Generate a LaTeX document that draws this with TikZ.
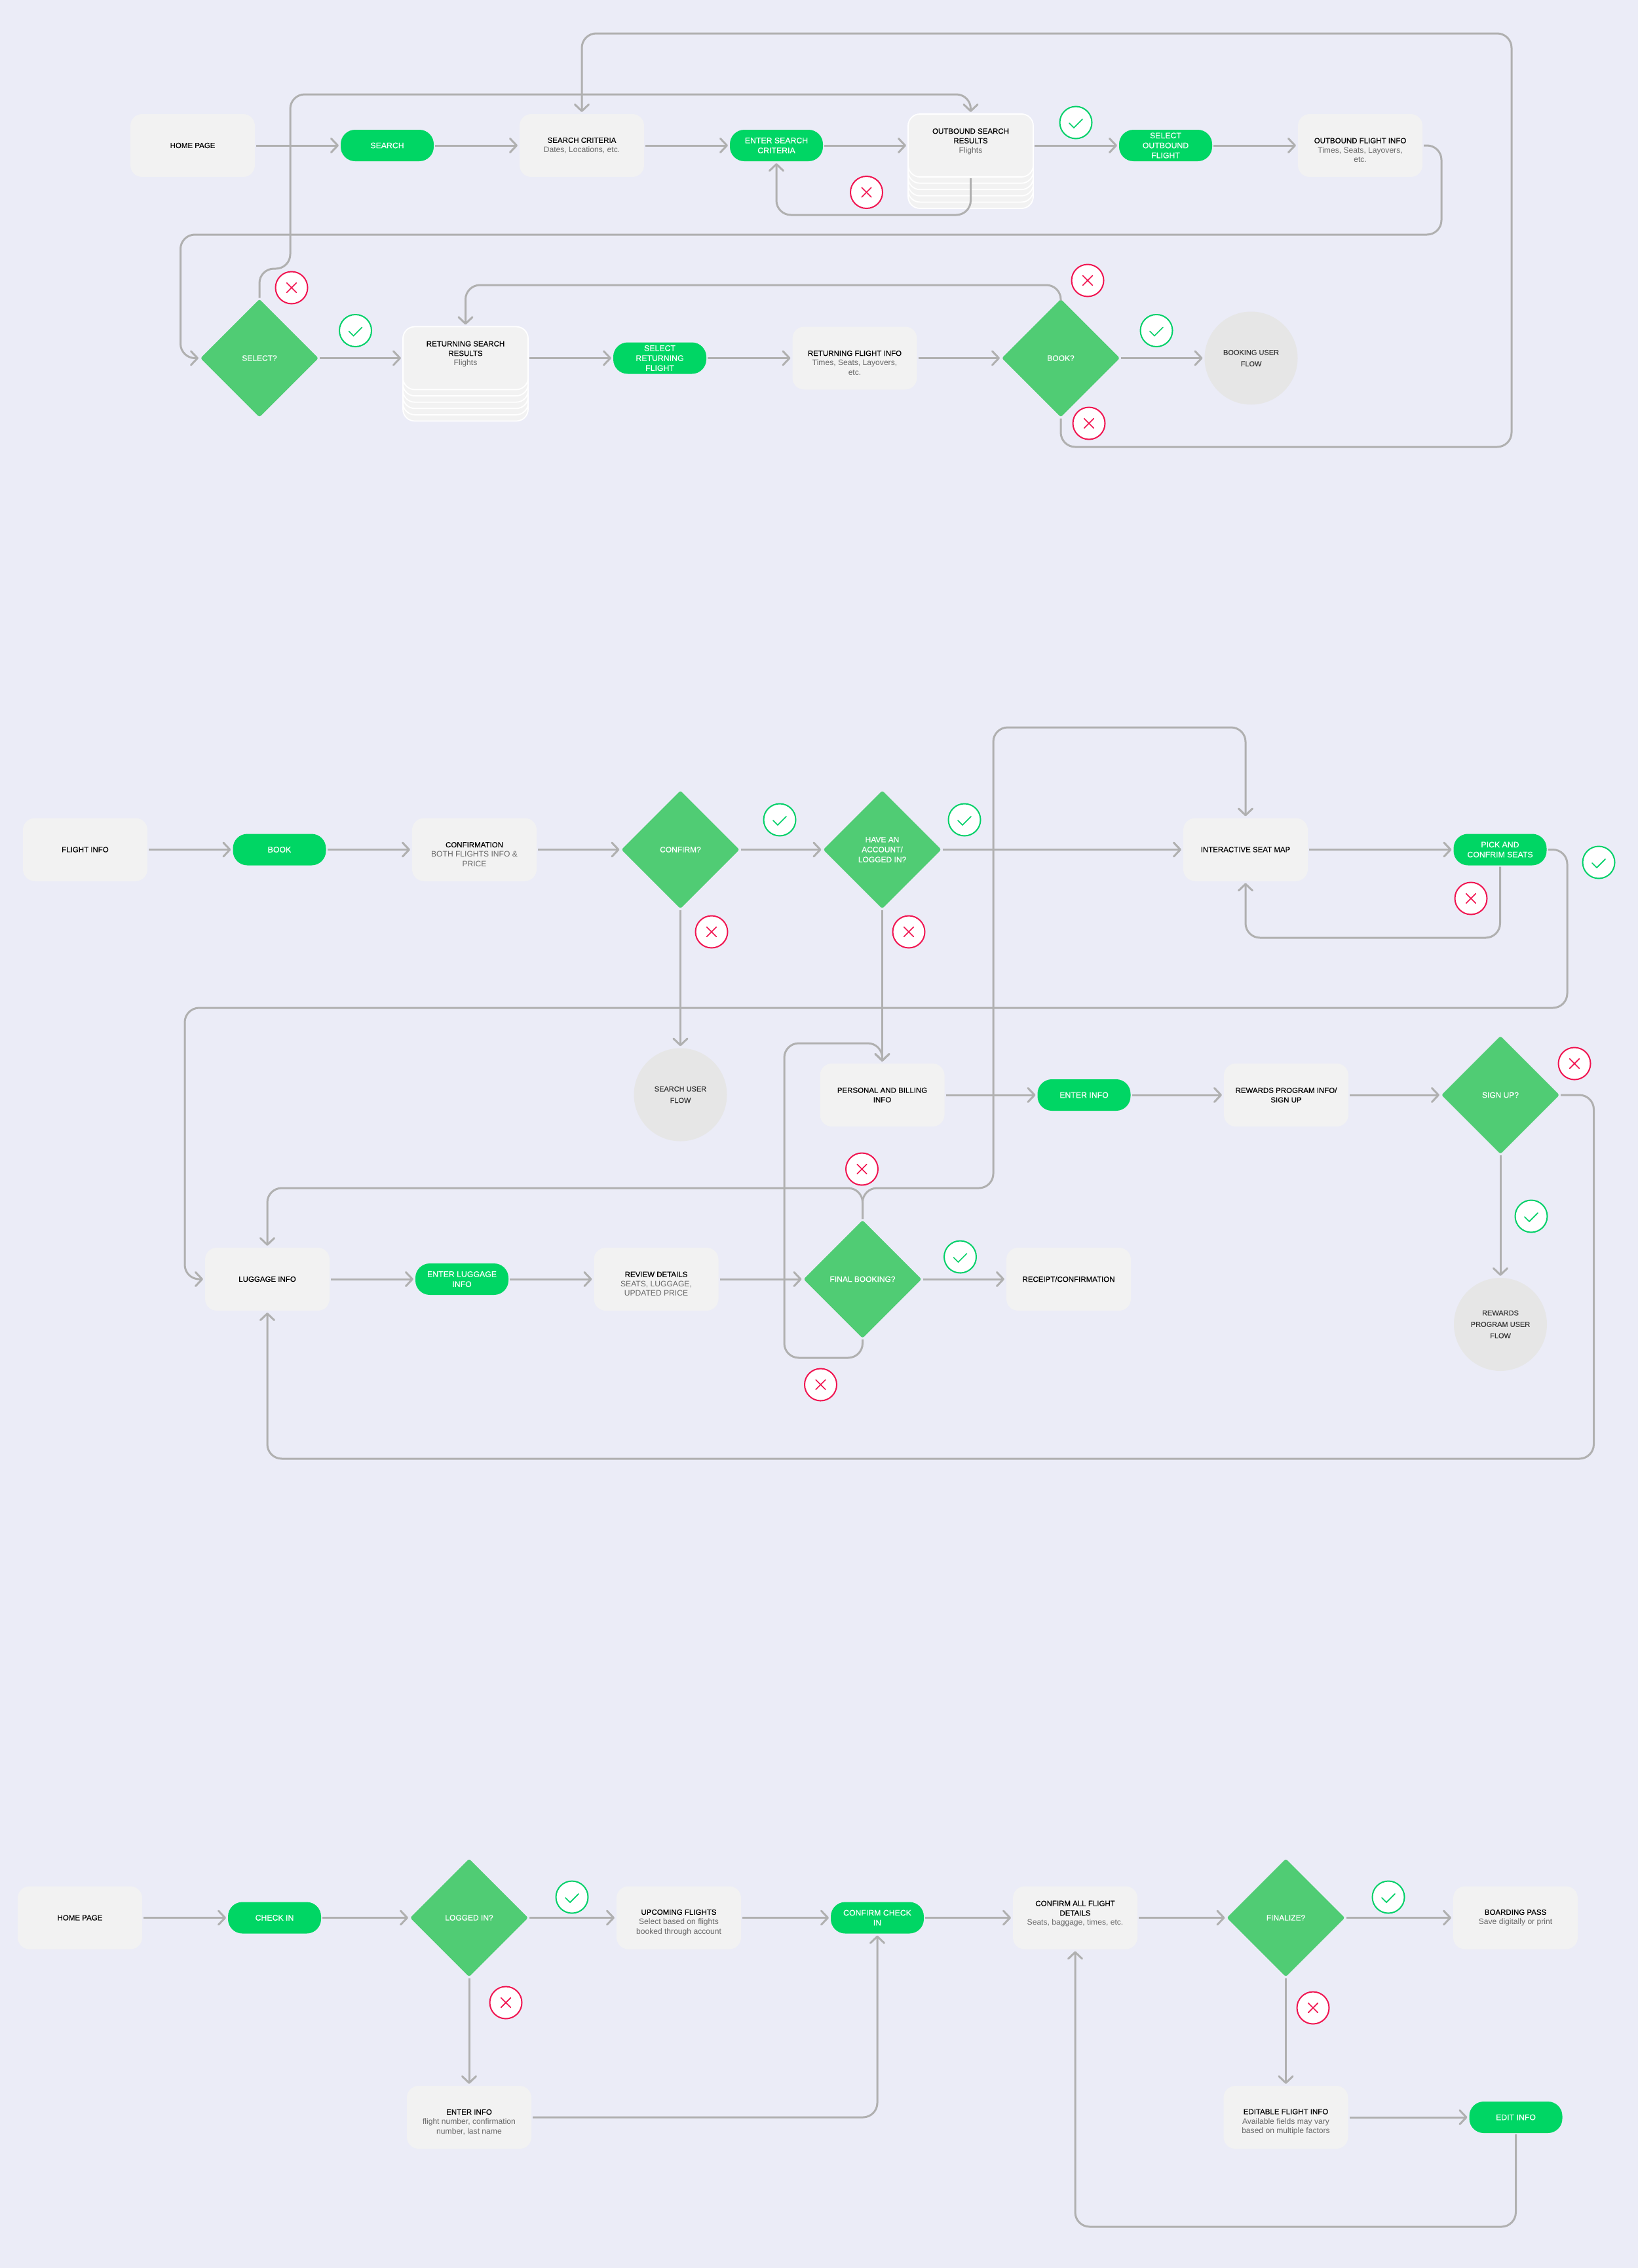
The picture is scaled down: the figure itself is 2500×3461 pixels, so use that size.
\documentclass[tikz,border=0pt]{standalone}
\usepackage{fontspec}
\setmainfont{Liberation Sans}[BoldFont=Liberation Sans, BoldFeatures={FakeBold=0.15}]
\usetikzlibrary{shapes.geometric, arrows.meta, positioning, calc}
\definecolor{colBg}{RGB}{235, 236, 247}
\definecolor{colBox}{RGB}{242, 242, 242}
\definecolor{colPill}{RGB}{0, 214, 100}
\definecolor{colDiam}{RGB}{80, 204, 116}
\definecolor{colEnd}{RGB}{230, 230, 230}
\definecolor{colLine}{RGB}{176, 176, 176}
\definecolor{colSub}{RGB}{105, 105, 105}
\definecolor{colYes}{RGB}{0, 208, 104}
\definecolor{colNo}{RGB}{240, 20, 80}
\newcommand{\subt}[1]{{\mdseries\fontsize{12.1}{14.6}\selectfont\color{colSub}#1}}
\tikzset{
    boxcard/.style={rectangle, rounded corners=18pt, fill=colBox, minimum width=190pt, minimum height=96pt,
        align=center, inner sep=0pt, outer sep=0pt, font=\fontsize{11.5}{14.6}\selectfont\bfseries,
        execute at begin node={\vspace*{3pt}}},
    stackcard/.style={boxcard, draw=white, line width=1.8pt, minimum width=191pt},
    pillbox/.style={rectangle, rounded corners=22pt, fill=colPill, text=white, minimum width=142pt, minimum height=48pt,
        align=center, inner sep=0pt, outer sep=0pt, font=\fontsize{12.3}{15.2}\selectfont\bfseries,
        execute at begin node={\vspace*{3pt}}},
    diam/.style={diamond, aspect=1, rounded corners=3pt, fill=colDiam, text=white, minimum width=180pt, minimum height=180pt,
        align=center, inner sep=0pt, outer sep=0pt, font=\fontsize{12}{15.2}\selectfont\bfseries,
        execute at begin node={\vspace*{3pt}}},
    endflow/.style={circle, fill=colEnd, text=black!80, minimum size=142pt,
        align=center, inner sep=0pt, outer sep=0pt, font=\fontsize{11}{17.4}\selectfont\bfseries},
    yesmark/.style={circle, draw=colYes, fill=white, line width=2pt, minimum size=49pt, inner sep=0pt,
        path picture={\draw[colYes, line width=1.7pt, line cap=round]
            ([shift={(-10,1)}]path picture bounding box.center) -- ++(7,7) -- ++(13,-13);}},
    nomark/.style={circle, draw=colNo, fill=white, line width=2pt, minimum size=49pt, inner sep=0pt,
        path picture={\draw[colNo, line width=1.7pt, line cap=round]
            ([shift={(-7.3,-7.3)}]path picture bounding box.center) -- ++(14.6,14.6)
            ([shift={(7.3,-7.3)}]path picture bounding box.center) -- ++(-14.6,14.6);}},
    flow/.style={draw=colLine, line width=3pt, rounded corners=22pt, shorten >=3pt, shorten <=2pt,
        -{Straight Barb[length=10pt,width=21pt,round]}},
}
\begin{document}
\begin{tikzpicture}[x=1pt, y=-1pt]
    \fill[colBg] (0, 0) rectangle (2500, 3461);
    \useasboundingbox (0, 0) rectangle (2500, 3461);

    % Search: first row
    \node[boxcard] (homeA) at (294, 222) {HOME PAGE};
    \node[pillbox] (searchP) at (591, 222) {SEARCH};
    \node[boxcard] (criteria) at (888, 222) {SEARCH CRITERIA\\\subt{Dates, Locations, etc.}};
    \node[pillbox] (enterCrit) at (1185, 222) {ENTER SEARCH\\CRITERIA};
    \foreach \i in {5, 4, 3, 2, 1} {
        \node[stackcard] (outCard\i) at (1481.5, {222+\i*9.6}) {};
    }
    \node[stackcard] (outResults) at (1481.5, 222) {OUTBOUND SEARCH\\RESULTS\\\subt{Flights}\\\mbox{}};
    \node[pillbox] (selectOut) at (1779, 222) {SELECT\\OUTBOUND\\FLIGHT};
    \node[boxcard] (outInfo) at (2076, 222) {\vphantom{H}\\OUTBOUND FLIGHT INFO\\\subt{Times, Seats, Layovers,}\\\subt{etc.}};

    % Search: second row
    \node[diam] (selectQ) at (396, 546.5) {SELECT?};
    \foreach \i in {5, 4, 3, 2, 1} {
        \node[stackcard] (retCard\i) at (710.5, {546.5+\i*9.6}) {};
    }
    \node[stackcard] (retResults) at (710.5, 546.5) {RETURNING SEARCH\\RESULTS\\\subt{Flights}\\\mbox{}};
    \node[pillbox] (selectRet) at (1007, 546.5) {SELECT\\RETURNING\\FLIGHT};
    \node[boxcard] (retInfo) at (1304.5, 546.5) {\vphantom{H}\\RETURNING FLIGHT INFO\\\subt{Times, Seats, Layovers,}\\\subt{etc.}};
    \node[diam] (bookQ) at (1619, 546.5) {BOOK?};
    \node[endflow] (bookFlow) at (1909.5, 546.5) {BOOKING USER\\FLOW};

    % Search: connectors
    \draw[flow] (homeA) -- (searchP);
    \draw[flow] (searchP) -- (criteria);
    \draw[flow] (criteria) -- (enterCrit);
    \draw[flow] (enterCrit) -- (outResults);
    \draw[flow] (outResults) -- (selectOut);
    \draw[flow] (selectOut) -- (outInfo);
    \draw[flow] (outResults.south) -- (1481.5, 328) -| (enterCrit.south);
    \draw[flow] (outInfo.east) -| (2200, 358) -- (275.5, 358) |- (selectQ.west);
    \draw[flow] (selectQ.north) -- (396, 410) -- (443, 410) -- (443, 144) -| (outResults.north);
    \draw[flow] (selectQ) -- (retResults);
    \draw[flow] (retResults) -- (selectRet);
    \draw[flow] (selectRet) -- (retInfo);
    \draw[flow] (retInfo) -- (bookQ);
    \draw[flow] (bookQ) -- (bookFlow);
    \draw[flow] (bookQ.north) -- (1619, 435) -| (retResults.north);
    \draw[flow] (bookQ.south) |- (2307, 682) -- (2307, 51) -| (criteria.north);

    % Search: badges
    \node[nomark] (noEnter) at (1322.5, 293.5) {};
    \node[yesmark] (yesOut) at (1642, 187) {};
    \node[nomark] (noSelect) at (445, 439) {};
    \node[yesmark] (yesSelect) at (542.5, 504.5) {};
    \node[nomark] (noBookT) at (1660, 428) {};
    \node[yesmark] (yesBook) at (1765, 504.5) {};
    \node[nomark] (noBookB) at (1662, 646) {};

    % Booking: first row
    \node[boxcard] (flightInfo) at (130, 1296.5) {FLIGHT INFO};
    \node[pillbox] (bookP) at (426.5, 1296.5) {BOOK};
    \node[boxcard] (confirmation) at (724, 1296.5) {\vphantom{H}\\CONFIRMATION\\\subt{BOTH FLIGHTS INFO \&}\\\subt{PRICE}};
    \node[diam] (confirmQ) at (1038.5, 1296.5) {CONFIRM?};
    \node[diam] (accountQ) at (1346.5, 1296.5) {HAVE AN\\ACCOUNT/\\LOGGED IN?};
    \node[boxcard] (seatMap) at (1901, 1296.5) {INTERACTIVE SEAT MAP};
    \node[pillbox] (pickSeats) at (2289.5, 1296.5) {PICK AND\\CONFRIM SEATS};

    % Booking: second row
    \node[endflow] (searchFlow) at (1038.5, 1670.5) {SEARCH USER\\FLOW};
    \node[boxcard] (billing) at (1346.5, 1671) {PERSONAL AND BILLING\\INFO};
    \node[pillbox] (enterInfoA) at (1654.5, 1671) {ENTER INFO};
    \node[boxcard] (rewards) at (1963, 1671) {REWARDS PROGRAM INFO/\\SIGN UP};
    \node[diam] (signQ) at (2290, 1671) {SIGN UP?};
    \node[endflow] (rewardFlow) at (2290, 2021) {REWARDS\\PROGRAM USER\\FLOW};

    % Booking: third row
    \node[boxcard] (luggage) at (408, 1952) {LUGGAGE INFO};
    \node[pillbox] (enterLug) at (705, 1952) {ENTER LUGGAGE\\INFO};
    \node[boxcard] (review) at (1001.5, 1952) {\vphantom{H}\\REVIEW DETAILS\\\subt{SEATS, LUGGAGE,}\\\subt{UPDATED PRICE}};
    \node[diam] (finalQ) at (1316.5, 1952) {FINAL BOOKING?};
    \node[boxcard] (receipt) at (1631, 1952) {RECEIPT/CONFIRMATION};

    % Booking: connectors
    \draw[flow] (flightInfo) -- (bookP);
    \draw[flow] (bookP) -- (confirmation);
    \draw[flow] (confirmation) -- (confirmQ);
    \draw[flow] (confirmQ) -- (accountQ);
    \draw[flow] (accountQ) -- (seatMap);
    \draw[flow] (seatMap) -- (pickSeats);
    \draw[flow] (pickSeats.south) -- (2289.5, 1431) -| (seatMap.south);
    \draw[flow] (pickSeats.east) -| (2392, 1538) -- (282, 1538) |- (luggage.west);
    \draw[flow] (confirmQ) -- (searchFlow);
    \draw[flow] (accountQ) -- (billing);
    \draw[flow] (billing) -- (enterInfoA);
    \draw[flow] (enterInfoA) -- (rewards);
    \draw[flow] (rewards) -- (signQ);
    \draw[flow] (signQ) -- (rewardFlow);
    \draw[flow] (signQ.east) -| (2432.5, 2226) -| (luggage.south);
    \draw[flow] (luggage) -- (enterLug);
    \draw[flow] (enterLug) -- (review);
    \draw[flow] (review) -- (finalQ);
    \draw[flow] (finalQ) -- (receipt);
    \draw[flow] (finalQ.north) -- (1316.5, 1813) -| (luggage.north);
    \draw[flow] (finalQ.north) -- (1316.5, 1813) -- (1516, 1813) -- (1516, 1110) -| (seatMap.north);
    \draw[flow] (finalQ.south) -- (1316.5, 2072) -- (1197, 2072) -- (1197, 1592) -| (billing.north);

    % Booking: badges
    \node[yesmark] (yesConfirm) at (1190, 1251) {};
    \node[nomark] (noConfirm) at (1086, 1422) {};
    \node[yesmark] (yesAccount) at (1472, 1251) {};
    \node[nomark] (noAccount) at (1387, 1422) {};
    \node[nomark] (noSeats) at (2245, 1371) {};
    \node[yesmark] (yesSeats) at (2440, 1316) {};
    \node[nomark] (noSign) at (2403, 1623) {};
    \node[yesmark] (yesSign) at (2337, 1856) {};
    \node[nomark] (noFinalT) at (1315.5, 1784) {};
    \node[yesmark] (yesFinal) at (1465.5, 1918) {};
    \node[nomark] (noFinalB) at (1252.5, 2113) {};

    % Check in: first row
    \node[boxcard] (homeB) at (122, 2926.5) {HOME PAGE};
    \node[pillbox] (checkP) at (419, 2926.5) {CHECK IN};
    \node[diam] (loggedQ) at (716, 2926.5) {LOGGED IN?};
    \node[boxcard] (upcoming) at (1036, 2926.5) {\vphantom{H}\\UPCOMING FLIGHTS\\\subt{Select based on flights}\\\subt{booked through account}};
    \node[pillbox] (confirmCheck) at (1339, 2926.5) {CONFIRM CHECK\\IN};
    \node[boxcard] (confirmAll) at (1641, 2926.5) {CONFIRM ALL FLIGHT\\DETAILS\\\subt{Seats, baggage, times, etc.}\\\mbox{}};
    \node[diam] (finalizeQ) at (1962.5, 2926.5) {FINALIZE?};
    \node[boxcard] (boarding) at (2313, 2926.5) {BOARDING PASS\\\subt{Save digitally or print}};

    % Check in: second row
    \node[boxcard] (enterInfoB) at (716, 3231) {\vphantom{H}\\ENTER INFO\\\subt{flight number, confirmation}\\\subt{number, last name}};
    \node[boxcard] (editable) at (1962.5, 3231) {\vphantom{H}\\EDITABLE FLIGHT INFO\\\subt{Available fields may vary}\\\subt{based on multiple factors}};
    \node[pillbox] (editP) at (2313.5, 3231) {EDIT INFO};

    % Check in: connectors
    \draw[flow] (homeB) -- (checkP);
    \draw[flow] (checkP) -- (loggedQ);
    \draw[flow] (loggedQ) -- (upcoming);
    \draw[flow] (upcoming) -- (confirmCheck);
    \draw[flow] (confirmCheck) -- (confirmAll);
    \draw[flow] (confirmAll) -- (finalizeQ);
    \draw[flow] (finalizeQ) -- (boarding);
    \draw[flow] (loggedQ.south) -- (enterInfoB.north);
    \draw[flow] (enterInfoB.east) -| (confirmCheck.south);
    \draw[flow] (finalizeQ.south) -- (editable.north);
    \draw[flow] (editable) -- (editP);
    \draw[flow] (editP.south) -- (2313.5, 3398) -| (confirmAll.south);

    % Check in: badges
    \node[yesmark] (yesLogged) at (873, 2895) {};
    \node[nomark] (noLogged) at (772, 3056) {};
    \node[yesmark] (yesFinalize) at (2119, 2895) {};
    \node[nomark] (noFinalize) at (2004, 3064) {};
\end{tikzpicture}
\end{document}
